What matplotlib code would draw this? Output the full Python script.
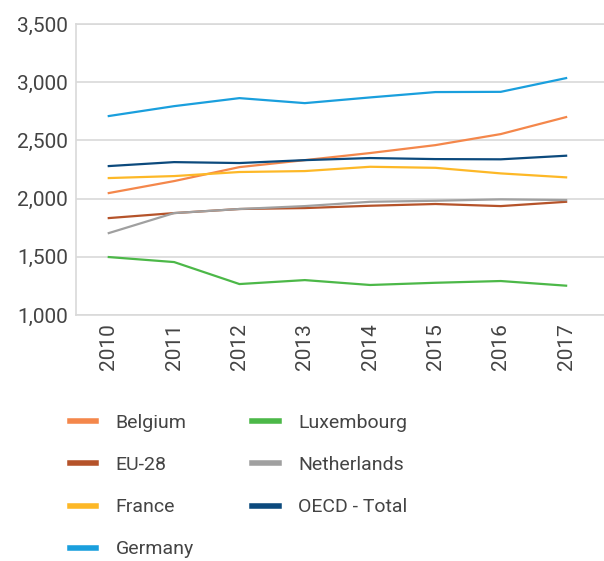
import matplotlib
matplotlib.use("Agg")
import matplotlib.pyplot as plt

plt.rcParams['font.family'] = ['Roboto', 'DejaVu Sans']

years = ["2010", "2011", "2012", "2013", "2014", "2015", "2016", "2017"]
belgium = [2048, 2151, 2271, 2331, 2392, 2460, 2555, 2701]
eu28 = [1833, 1876, 1911, 1919, 1939, 1954, 1936, 1973]
france = [2177, 2194, 2229, 2237, 2274, 2265, 2217, 2183]
germany = [2710, 2795, 2864, 2821, 2870, 2916, 2918, 3036]
luxembourg = [1498, 1455, 1266, 1300, 1258, 1277, 1292, 1252]
netherlands = [1704, 1876, 1911, 1936, 1973, 1982, 1994, 1988]
oecd = [2280, 2314, 2306, 2331, 2349, 2340, 2338, 2369]

series = [
    ("Belgium", belgium, "#F4874B"),
    ("EU-28", eu28, "#B5532A"),
    ("France", france, "#FDB827"),
    ("Germany", germany, "#1A9FDD"),
    ("Luxembourg", luxembourg, "#4CB848"),
    ("Netherlands", netherlands, "#A0A0A0"),
    ("OECD - Total", oecd, "#0C4A7D"),
]

fig = plt.figure(figsize=(6.04, 5.61), dpi=100)
ax = fig.add_axes([0.126, 0.4385, 0.874, 0.5185])
x = list(range(len(years)))
for name, vals, col in series:
    ax.plot(x, vals, color=col, lw=1.6, label=name)

ax.set_xlim(-0.5, 7.58)
ax.set_ylim(1000, 3500)
ax.set_yticks([1000, 1500, 2000, 2500, 3000, 3500])
ax.set_yticklabels([f"{v:,}" for v in [1000, 1500, 2000, 2500, 3000, 3500]])
ax.set_xticks(x)
ax.set_xticklabels(years, rotation=90)
ax.tick_params(length=0, labelsize=15, colors="#444444", pad=6)
ax.grid(axis="y", color="#D9D9D9", lw=1.2)
ax.set_axisbelow(True)
for s in ax.spines.values():
    s.set_color("#D9D9D9")
    s.set_linewidth(1.2)
ax.spines["right"].set_visible(False)

leg = fig.legend(loc="upper left", bbox_to_anchor=(0.087, 0.293), ncol=2, frameon=False,
                 fontsize=14, handlelength=1.35, handletextpad=1.0, columnspacing=3.0,
                 labelspacing=1.24, labelcolor="#444444")
for h in leg.get_lines():
    h.set_linewidth(4)

fig.savefig("out.png", dpi=100)
